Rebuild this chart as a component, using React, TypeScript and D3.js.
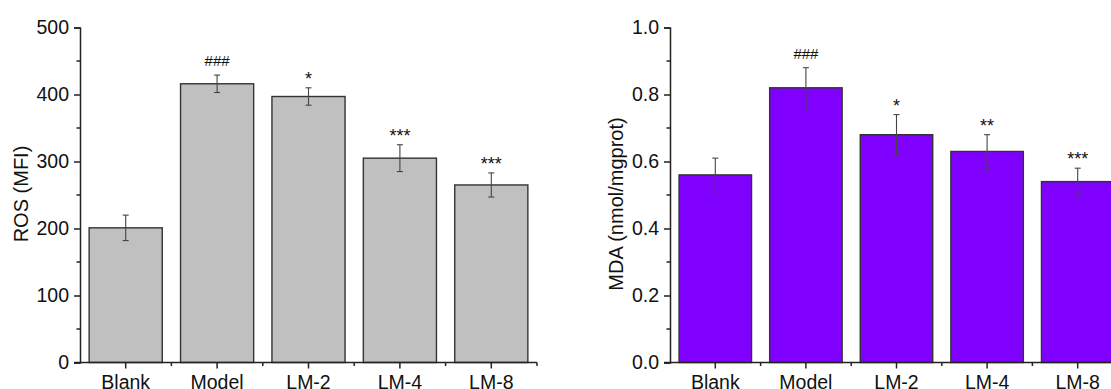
import React, { useEffect, useRef } from 'react'
import { axisLeft, scaleBand, scaleLinear, select, range } from 'd3'

const categories = ['Blank', 'Model', 'LM-2', 'LM-4', 'LM-8']

// ROS panel
const rosMean = [201, 416, 397, 305, 265]
const rosErr = [19, 13, 13, 20, 18]
const rosSig = ['', '###', '*', '***', '***']
const rosTicks = [0, 100, 200, 300, 400, 500]

// MDA panel
const mdaMean = [0.56, 0.82, 0.68, 0.63, 0.54]
const mdaErr = [0.05, 0.06, 0.06, 0.05, 0.04]
const mdaSig = ['', '###', '*', '**', '***']
const mdaTicks = [0, 0.2, 0.4, 0.6, 0.8, 1.0]

const FONT = '"Liberation Sans", Arial, sans-serif'

type PanelProps = {
  x0: number
  x1: number
  max: number
  ticks: number[]
  fmt: (v: number) => string
  mean: number[]
  err: number[]
  sig: string[]
  fill: string
  label: string
  labelX: number
  labelY: number
}

const Panel = ({ x0, x1, max, ticks, fmt, mean, err, sig, fill, label, labelX, labelY }: PanelProps) => {
  const gRef = useRef<SVGGElement>(null)

  useEffect(() => {
    const g = select(gRef.current)
    g.selectAll('*').remove()

    const y = scaleLinear().domain([0, max]).range([362.5, 27.5])
    const x = scaleBand().domain(categories).range([x0, x1]).paddingInner(0.2).paddingOuter(0.1)
    const step = x.step()
    const data = categories.map((c, i) => ({ c, m: mean[i], e: err[i], s: sig[i] }))
    const cx = (c: string) => x(c)! + x.bandwidth() / 2

    // bars
    g.selectAll('.bar')
      .data(data)
      .join('rect')
      .attr('class', 'bar')
      .attr('x', d => x(d.c)!)
      .attr('y', d => y(d.m))
      .attr('width', x.bandwidth())
      .attr('height', d => y(0) - y(d.m))
      .attr('fill', fill)
      .attr('stroke', '#333')
      .attr('stroke-width', 1.4)

    // error bars
    const eb = g.selectAll('.err').data(data).join('g').attr('class', 'err')
      .attr('stroke', '#444').attr('stroke-width', 1.1)
    eb.append('line')
      .attr('x1', d => cx(d.c))
      .attr('x2', d => cx(d.c))
      .attr('y1', d => y(d.m + d.e))
      .attr('y2', d => y(d.m - d.e))
    eb.append('line')
      .attr('x1', d => cx(d.c) - 3)
      .attr('x2', d => cx(d.c) + 3)
      .attr('y1', d => y(d.m + d.e))
      .attr('y2', d => y(d.m + d.e))
    eb.append('line')
      .attr('x1', d => cx(d.c) - 3)
      .attr('x2', d => cx(d.c) + 3)
      .attr('y1', d => y(d.m - d.e))
      .attr('y2', d => y(d.m - d.e))

    // significance marks
    g.selectAll('.sig')
      .data(data)
      .join('text')
      .attr('class', 'sig')
      .attr('x', d => cx(d.c))
      .attr('y', d => y(d.m + d.e) - (d.s.startsWith('#') ? 9 : 3))
      .attr('text-anchor', 'middle')
      .attr('font-family', FONT)
      .attr('font-size', d => (d.s.startsWith('#') ? 15 : 18))
      .attr('fill', '#111')
      .text(d => d.s)

    // y axis
    const yAxis = axisLeft(y).tickValues(ticks).tickFormat(d => fmt(+d)).tickSize(6).tickPadding(5)
    const ya = g.append('g').attr('transform', `translate(${x0},0)`).call(yAxis)
    ya.select('.domain').attr('stroke', '#222').attr('stroke-width', 1.5)
    ya.selectAll('.tick line').attr('stroke', '#222').attr('stroke-width', 1.5)
    ya.selectAll('.tick text')
      .attr('font-family', FONT)
      .attr('font-size', 19.5)
      .attr('fill', '#111')
    const minor = range(0, ticks.length - 1).map(i => (ticks[i] + ticks[i + 1]) / 2)
    ya.selectAll('.minor')
      .data(minor)
      .join('line')
      .attr('class', 'minor')
      .attr('x1', -3.5)
      .attr('x2', 0)
      .attr('y1', d => y(d))
      .attr('y2', d => y(d))
      .attr('stroke', '#222')
      .attr('stroke-width', 1.5)

    // x axis
    const xa = g.append('g').attr('transform', `translate(0,${y(0)})`)
    xa.append('line').attr('x1', x0 - 6).attr('x2', x1).attr('stroke', '#222').attr('stroke-width', 1.5)
    xa.selectAll('.major')
      .data(categories)
      .join('line')
      .attr('class', 'major')
      .attr('x1', d => cx(d))
      .attr('x2', d => cx(d))
      .attr('y1', 0)
      .attr('y2', 6)
      .attr('stroke', '#222')
      .attr('stroke-width', 1.5)
    xa.selectAll('.minorx')
      .data(range(1, categories.length + 1))
      .join('line')
      .attr('class', 'minorx')
      .attr('x1', d => x0 + d * step)
      .attr('x2', d => x0 + d * step)
      .attr('y1', 0)
      .attr('y2', 3.5)
      .attr('stroke', '#222')
      .attr('stroke-width', 1.5)
    xa.selectAll('.xl')
      .data(categories)
      .join('text')
      .attr('class', 'xl')
      .attr('x', d => cx(d))
      .attr('y', 26)
      .attr('text-anchor', 'middle')
      .attr('font-family', FONT)
      .attr('font-size', 19.5)
      .attr('fill', '#111')
      .text(d => d)

    // y label
    g.append('text')
      .attr('transform', `translate(${labelX},${labelY}) rotate(-90)`)
      .attr('text-anchor', 'middle')
      .attr('dominant-baseline', 'central')
      .attr('font-family', FONT)
      .attr('font-size', 20)
      .attr('fill', '#111')
      .text(label)
  }, [x0, x1, max, ticks, fmt, mean, err, sig, fill, label, labelX, labelY])

  return <g ref={gRef} />
}

const fmtInt = (v: number) => String(v)
const fmtOne = (v: number) => v.toFixed(1)

export default function App() {
  return (
    <>
      <style>{'body{margin:0}'}</style>
      <svg width={1111} height={389} viewBox="0 0 1111 389" style={{ display: 'block', background: '#fff' }}>
        <Panel x0={80} x1={537} max={500} ticks={rosTicks} fmt={fmtInt} mean={rosMean} err={rosErr}
          sig={rosSig} fill="#c0c0c0" label="ROS (MFI)" labelX={21} labelY={194} />
        <Panel x0={670} x1={1123} max={1.0} ticks={mdaTicks} fmt={fmtOne} mean={mdaMean} err={mdaErr}
          sig={mdaSig} fill="#8000ff" label="MDA (nmol/mgprot)" labelX={616} labelY={204} />
      </svg>
    </>
  )
}
